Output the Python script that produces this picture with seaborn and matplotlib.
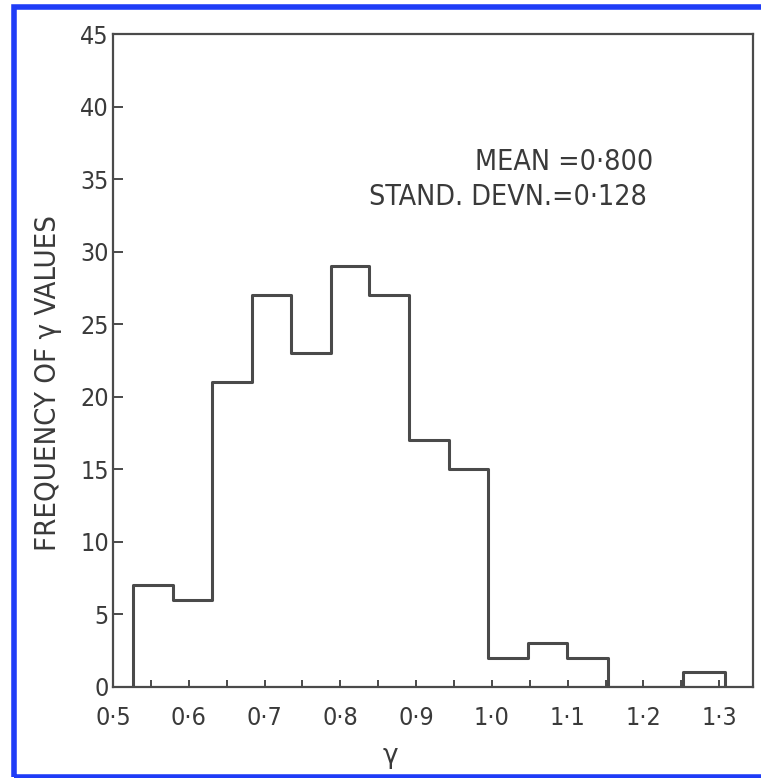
import numpy as np
import pandas as pd
import matplotlib
matplotlib.use("Agg")
import matplotlib.pyplot as plt
import seaborn as sns
from matplotlib.patches import Rectangle

# ---- data ----
bin_edges = [0.527, 0.579, 0.630, 0.684, 0.735, 0.787, 0.838, 0.891, 0.943,
             0.995, 1.048, 1.099, 1.153, 1.202, 1.252, 1.307]
counts = [7, 6, 21, 27, 23, 29, 27, 17, 15, 2, 3, 2, 0, 0, 1]
x_tick_values = [0.5, 0.6, 0.7, 0.8, 0.9, 1.0, 1.1, 1.2, 1.3]
x_tick_labels = ["0·5", "0·6", "0·7", "0·8", "0·9", "1·0", "1·1", "1·2", "1·3"]
y_tick_values = [0, 5, 10, 15, 20, 25, 30, 35, 40, 45]
stats_lines = ["MEAN =0·800", "STAND. DEVN.=0·128"]
x_label = "γ"
y_label = "FREQUENCY OF γ VALUES"

# step outline closed down to zero at both ends
step_x = [bin_edges[0]] + list(bin_edges)
step_y = [0] + list(counts) + [0]
df = pd.DataFrame({"gamma": step_x, "n": step_y})

sns.set_theme(style="white")
plt.rcParams["font.family"] = ["DejaVu Sans"]

ink = "#4a4a4a"
txt = "#3a3a3a"

fig = plt.figure(figsize=(7.61, 7.78), dpi=100)
ax = fig.add_axes([113 / 761, 1 - 687 / 778, 640 / 761, 653 / 778])

sns.lineplot(data=df, x="gamma", y="n", drawstyle="steps-post", sort=False,
             estimator=None, color=ink, linewidth=2.2, ax=ax)

ax.set_xlim(0.5013, 1.3445)
ax.set_ylim(0, 45)

for s in ax.spines.values():
    s.set_color(ink)
    s.set_linewidth(1.6)

ax.set_xticks(x_tick_values)
ax.set_xticklabels(x_tick_labels)
ax.set_xticks(np.arange(0.55, 1.34, 0.1), minor=True)
ax.set_yticks(y_tick_values)
ax.set_yticklabels([str(v) for v in y_tick_values])

ax.tick_params(axis="x", which="both", direction="in", length=5, width=1.4,
               color=ink, pad=14, labelsize=18, labelcolor=txt, bottom=True)
ax.tick_params(axis="y", which="both", direction="in", length=7, width=1.4,
               color=ink, pad=3, labelsize=18, labelcolor=txt, left=True)
for lab in ax.get_xticklabels() + ax.get_yticklabels():
    lab.set_fontstretch("condensed")

ax.set_xlabel(x_label, fontsize=19, color=txt)
ax.xaxis.set_label_coords(0.433, -0.085)
ax.set_ylabel(y_label, fontsize=21, color=txt, fontstretch="condensed")
ax.yaxis.set_label_coords(-0.08, 0.466)

ax.text(0.844, 0.804, stats_lines[0], transform=ax.transAxes, ha="right",
        va="center", fontsize=20.5, color=txt, fontstretch="condensed")
ax.text(0.834, 0.750, stats_lines[1], transform=ax.transAxes, ha="right",
        va="center", fontsize=20.5, color=txt, fontstretch="condensed")

# blue frame around the figure
fig.patches.append(Rectangle((13.5 / 761, 1.5 / 778), 0.99, 1 - 8.5 / 778,
                             transform=fig.transFigure, fill=False,
                             edgecolor="#1f3cf7", linewidth=4, zorder=10))

fig.savefig("out.png", dpi=100, facecolor="white")
